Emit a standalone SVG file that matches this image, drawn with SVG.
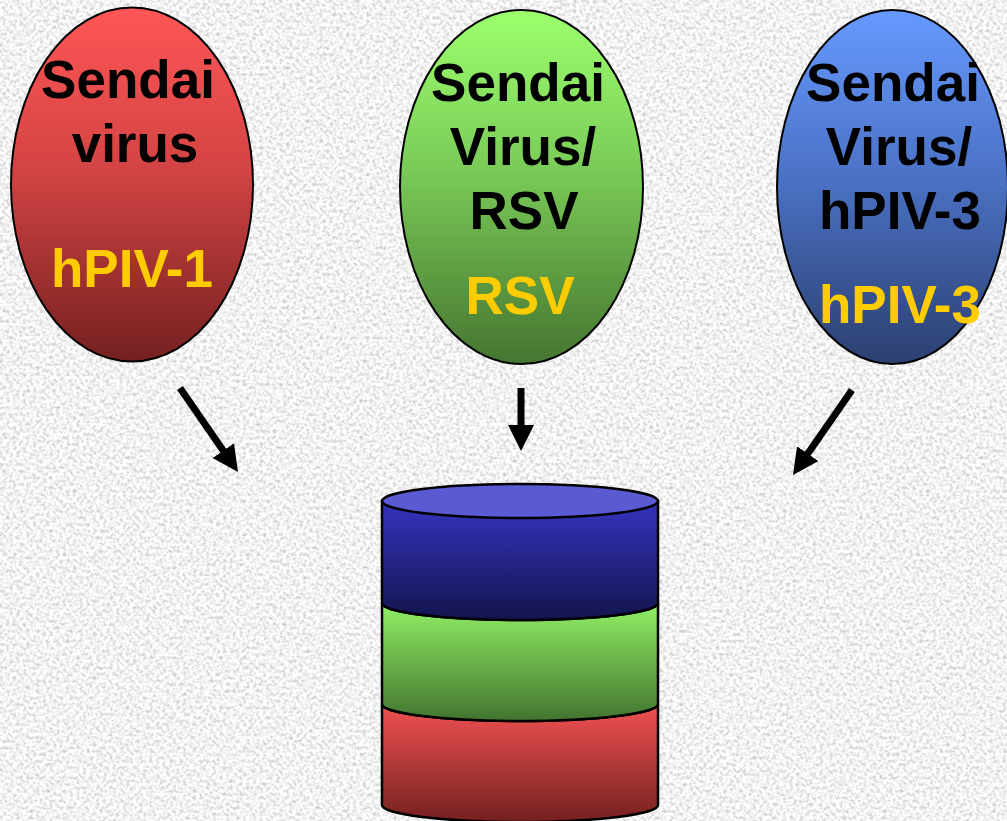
<svg xmlns="http://www.w3.org/2000/svg" width="1007" height="821" viewBox="0 0 1007 821">
<defs>
<style>
.lbl{font-family:"Liberation Sans",Arial,sans-serif;font-weight:bold;font-size:53px;text-anchor:middle}
.blk{fill:#000}
.yel{fill:#ffcc00}
.ov{stroke:#000;stroke-width:2}
.seg{stroke:#000;stroke-width:2.5}
.arr{stroke:#000;stroke-width:7;fill:none;marker-end:url(#ah)}
</style>
<filter id="tex" x="0" y="0" width="1007" height="821" filterUnits="userSpaceOnUse">
<feTurbulence type="fractalNoise" baseFrequency="0.3" numOctaves="3" seed="7"/>
<feColorMatrix type="matrix" values="0.9 0 0 0 0.44  0.9 0 0 0 0.44  0.9 0 0 0 0.44  0 0 0 0 1"/>
</filter>
<linearGradient id="gRed" x1="0" y1="0" x2="0" y2="1"><stop offset="0" stop-color="#ff5656"/><stop offset="0.45" stop-color="#d44444"/><stop offset="1" stop-color="#742020"/></linearGradient>
<linearGradient id="gGreen" x1="0" y1="0" x2="0" y2="1"><stop offset="0" stop-color="#9cff6c"/><stop offset="0.45" stop-color="#7acb58"/><stop offset="1" stop-color="#467530"/></linearGradient>
<linearGradient id="gBlue" x1="0" y1="0" x2="0" y2="1"><stop offset="0" stop-color="#6699ff"/><stop offset="0.45" stop-color="#4c74c8"/><stop offset="1" stop-color="#2c3f70"/></linearGradient>
<linearGradient id="cBlue" x1="0" y1="0" x2="0" y2="1"><stop offset="0" stop-color="#3434c0"/><stop offset="1" stop-color="#14144e"/></linearGradient>
<linearGradient id="cGreen" x1="0" y1="0" x2="0" y2="1"><stop offset="0" stop-color="#92f064"/><stop offset="1" stop-color="#427430"/></linearGradient>
<linearGradient id="cRed" x1="0" y1="0" x2="0" y2="1"><stop offset="0" stop-color="#f25252"/><stop offset="1" stop-color="#742020"/></linearGradient>
<marker id="ah" markerUnits="userSpaceOnUse" markerWidth="26" markerHeight="26" viewBox="0 0 26 26" refX="11" refY="13" orient="auto">
<path d="M0,0 L26,13 L0,26 Z" fill="#000"/>
</marker>
</defs>
<rect x="0" y="0" width="1007" height="821" fill="#e0e0e0" filter="url(#tex)"/>

<g id="node-sendai">
<ellipse class="ov" cx="132" cy="184.5" rx="121" ry="177" fill="url(#gRed)"/>
<text class="lbl blk" x="128" y="98">Sendai</text>
<text class="lbl blk" x="135" y="162">virus</text>
<text class="lbl yel" x="132" y="287">hPIV-1</text>
</g>

<g id="node-rsv">
<ellipse class="ov" cx="521.5" cy="187" rx="121.5" ry="177" fill="url(#gGreen)"/>
<text class="lbl blk" x="518" y="101">Sendai</text>
<text class="lbl blk" x="523" y="165">Virus/</text>
<text class="lbl blk" x="524" y="229">RSV</text>
<text class="lbl yel" x="520" y="314">RSV</text>
</g>

<g id="node-hpiv3">
<ellipse class="ov" cx="892.5" cy="187" rx="115.5" ry="177" fill="url(#gBlue)"/>
<text class="lbl blk" x="893" y="101">Sendai</text>
<text class="lbl blk" x="899" y="165">Virus/</text>
<text class="lbl blk" x="900" y="229">hPIV-3</text>
<text class="lbl yel" x="900" y="323">hPIV-3</text>
</g>

<g id="node-cylinder">
<path class="seg" fill="url(#cRed)" d="M382,704 A138,17 0 0 0 658,704 L658,805 A138,17 0 0 1 382,805 Z"/>
<path class="seg" fill="url(#cGreen)" d="M382,603 A138,17 0 0 0 658,603 L658,704 A138,17 0 0 1 382,704 Z"/>
<path class="seg" fill="url(#cBlue)" d="M382,501 L658,501 L658,603 A138,17 0 0 1 382,603 Z"/>
<ellipse class="seg" cx="520" cy="501" rx="138" ry="17" fill="#5a5ad2"/>
</g>

<g id="connectors">
<line class="arr" x1="180" y1="388" x2="229.5" y2="459.7"/>
<line class="arr" x1="521" y1="388" x2="521" y2="436"/>
<line class="arr" x1="852" y1="390" x2="801.5" y2="462.7"/>
</g>
</svg>
